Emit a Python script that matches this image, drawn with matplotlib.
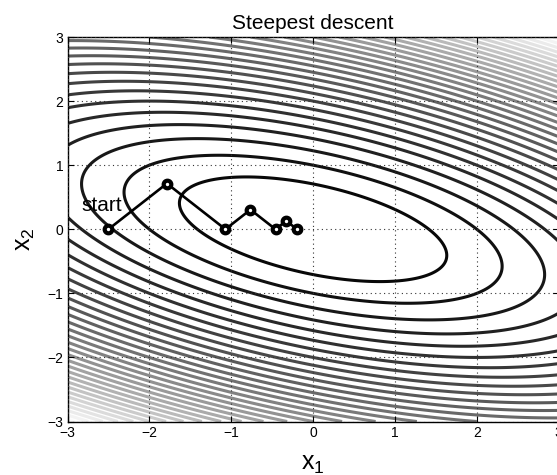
import numpy as np
import matplotlib
matplotlib.use("Agg")
import matplotlib.pyplot as plt

plt.rcParams['font.family'] = ['Liberation Sans', 'DejaVu Sans']
plt.rcParams['mathtext.fontset'] = 'custom'
plt.rcParams['mathtext.rm'] = 'Liberation Sans'
plt.rcParams['mathtext.it'] = 'Liberation Sans'

# quadratic objective f(x) = x' A x
A = [[1.0, 1.0], [1.0, 4.0]]
levels = list(range(2, 64, 2))

# steepest descent iterates
path_x1 = [-2.5, -1.786, -1.071, -0.765, -0.459, -0.328, -0.197]
path_x2 = [0.0, 0.714, 0.0, 0.306, 0.0, 0.131, 0.0]

ticks = [-3, -2, -1, 0, 1, 2, 3]

fig = plt.figure(figsize=(5.57, 4.75), dpi=100)
ax = fig.add_axes([0.1212, 0.1126, 0.8818, 0.8095])

g = np.linspace(-3, 3, 401)
X1, X2 = np.meshgrid(g, g)
Z = A[0][0] * X1**2 + 2 * A[0][1] * X1 * X2 + A[1][1] * X2**2

ax.contour(X1, X2, Z, levels=levels, cmap='gray', vmin=Z.min(), vmax=Z.max(),
           linewidths=2.2, zorder=1)

ax.plot(path_x1, path_x2, '-o', color='black', lw=1.9, ms=5.5, mew=3,
        mfc='white', mec='black', zorder=3)
ax.text(-2.83, 0.37, 'start', fontsize=15, ha='left', va='center', zorder=4)

ax.set_xlim(-3, 3)
ax.set_ylim(-3, 3)
ax.set_xticks(ticks)
ax.set_yticks(ticks)
ax.tick_params(direction='in', top=True, right=True, labelsize=10, length=4,
               width=0.8, pad=3)
ax.grid(True, linestyle=(0, (1, 3)), color='0.2', linewidth=0.8, zorder=2)
ax.set_axisbelow(False)
for s in ax.spines.values():
    s.set_linewidth(1.0)

ax.set_title('Steepest descent', fontsize=15, pad=6)
ax.set_xlabel(r'$\mathregular{x_1}$', fontsize=18, labelpad=9)
ax.set_ylabel(r'$\mathregular{x_2}$', fontsize=18)
ax.yaxis.set_label_coords(-0.062, 0.475)

fig.savefig('out.png', dpi=100)
